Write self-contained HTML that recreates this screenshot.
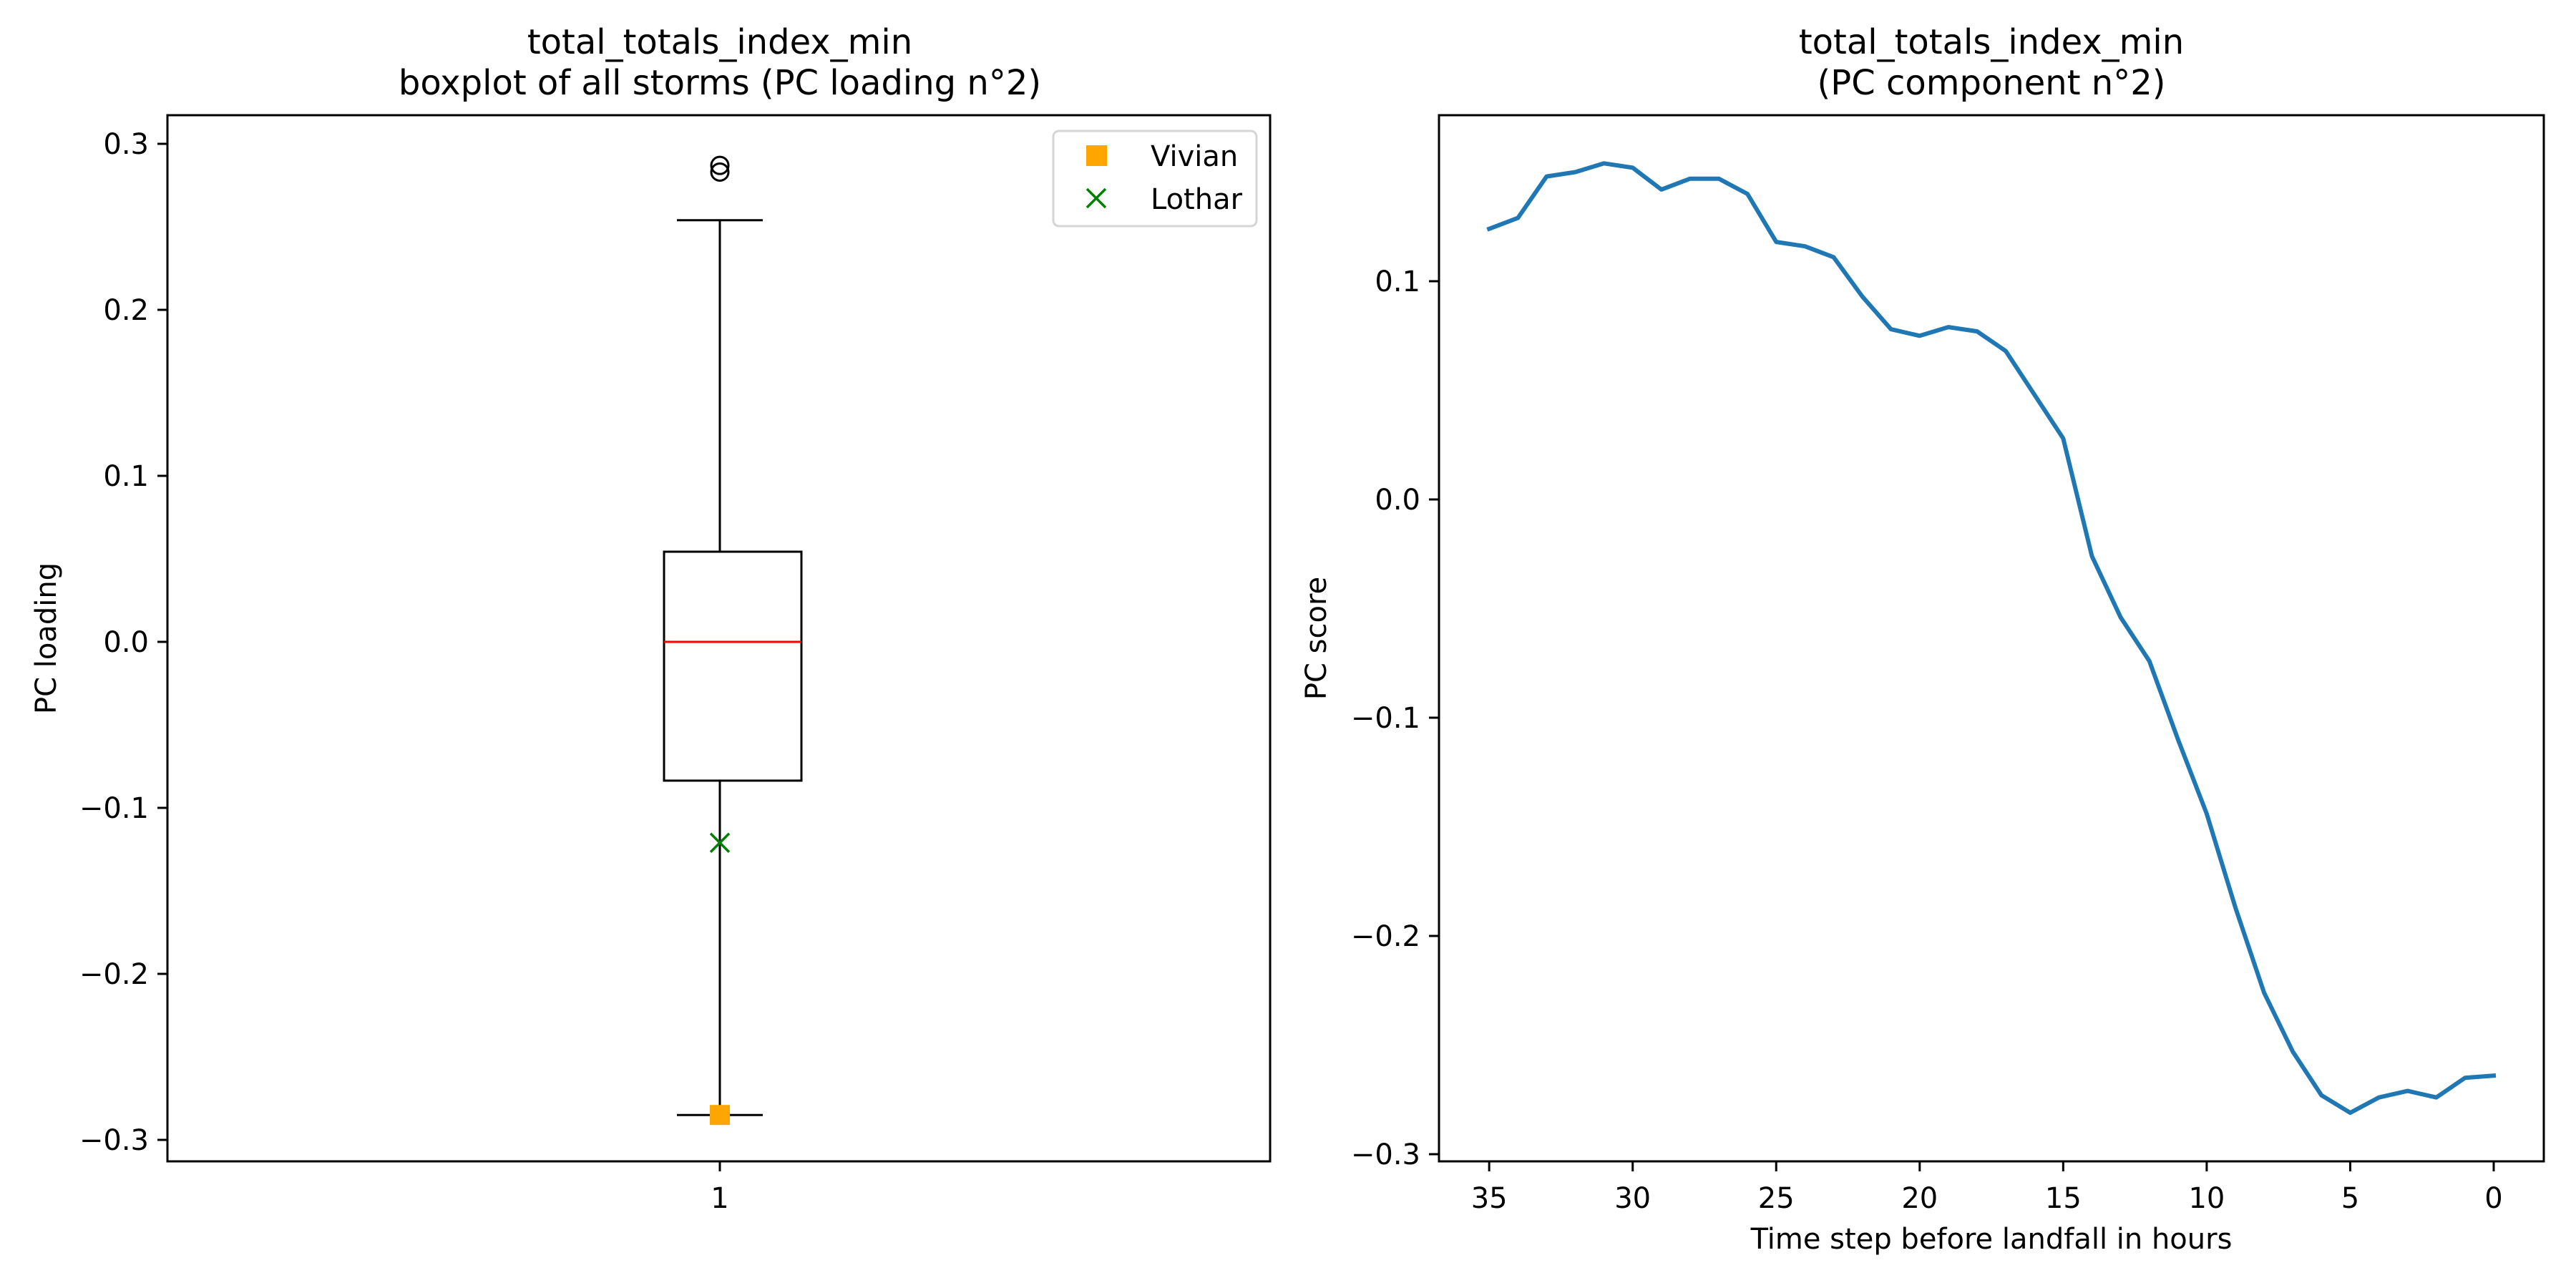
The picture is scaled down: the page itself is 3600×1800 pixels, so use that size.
<!DOCTYPE html>
<html><head><meta charset="utf-8"><style>
html,body{margin:0;padding:0;background:#fff;}
svg{display:block;font-family:"DejaVu Sans","Liberation Sans",sans-serif;}
</style></head><body>
<svg id="fig" width="3600" height="1800" viewBox="0 0 3600 1800" xmlns="http://www.w3.org/2000/svg">
<rect width="3600" height="1800" fill="#fff"/>
<g id="left"></g>
<g id="right"></g>
</svg>
<script>
// Boxplot data
const boxStats = [0.254, 0.0543, 0.0, -0.0836, -0.285]; // whiskerHigh, q3, median, q1, whiskerLow
const outliers = [0.283, 0.287];
const vivianValue = [-0.285];
const lotharValue = [-0.121];
const leftYTicks = [0.3, 0.2, 0.1, 0.0, -0.1, -0.2, -0.3];
const leftYTickLabels = ["0.3","0.2","0.1","0.0","\u22120.1","\u22120.2","\u22120.3"];
// Line data
const hours = [35,34,33,32,31,30,29,28,27,26,25,24,23,22,21,20,19,18,17,16,15,14,13,12,11,10,9,8,7,6,5,4,3,2,1,0];
const pcScore = [0.124,0.129,0.148,0.150,0.154,0.152,0.142,0.147,0.147,0.140,0.118,0.116,0.111,0.093,0.078,0.075,0.079,0.077,0.068,0.048,0.028,-0.026,-0.054,-0.074,-0.110,-0.144,-0.187,-0.226,-0.253,-0.273,-0.281,-0.274,-0.271,-0.274,-0.265,-0.264];
const rightXTicks = [35,30,25,20,15,10,5,0];
const rightYTicks = [0.1, 0.0, -0.1, -0.2, -0.3];
const rightYTickLabels = ["0.1","0.0","\u22120.1","\u22120.2","\u22120.3"];

const NS = "http://www.w3.org/2000/svg";
function mk(parent, tag, attrs, text){
  const e = document.createElementNS(NS, tag);
  for (const k in attrs) e.setAttribute(k, attrs[k]);
  if (text !== undefined) e.textContent = text;
  parent.appendChild(e);
  return e;
}
const TOP = 161, BOT = 1623;

// ---- Left panel ----
const L = document.getElementById('left');
const lx0 = 234, lx1 = 1775;
const ly = v => 897 - v * 2320;
const bx = 1006;
let e;
// box
e = mk(L,'rect',{x:928,y:ly(boxStats[1]),width:192,height:ly(boxStats[3])-ly(boxStats[1]),fill:'none',stroke:'#000','stroke-width':3});
 
e = mk(L,'line',{x1:928,x2:1120,y1:ly(boxStats[2]),y2:ly(boxStats[2]),stroke:'#f00','stroke-width':3});
 
e = mk(L,'line',{x1:bx,x2:bx,y1:ly(boxStats[1]),y2:ly(boxStats[0]),stroke:'#000','stroke-width':3});
 
e = mk(L,'line',{x1:bx,x2:bx,y1:ly(boxStats[3]),y2:ly(boxStats[4]),stroke:'#000','stroke-width':3});
 
e = mk(L,'line',{x1:946,x2:1066,y1:ly(boxStats[0]),y2:ly(boxStats[0]),stroke:'#000','stroke-width':3});
 
e = mk(L,'line',{x1:946,x2:1066,y1:ly(boxStats[4]),y2:ly(boxStats[4]),stroke:'#000','stroke-width':3});
 
outliers.forEach(v=>{
  const o = mk(L,'ellipse',{cx:bx,cy:ly(v),rx:12,ry:12,fill:'none',stroke:'#000','stroke-width':3});
   
});
vivianValue.forEach(v=>{
  const m = mk(L,'rect',{x:bx-14,y:ly(v)-14,width:28,height:28,fill:'#ffa500'});
   
});
lotharValue.forEach(v=>{
  const y = ly(v);
  const m = mk(L,'path',{d:`M${bx-13},${y-13}L${bx+13},${y+13}M${bx-13},${y+13}L${bx+13},${y-13}`,stroke:'#008000','stroke-width':3.5,fill:'none'});
   
});
// spines
e = mk(L,'rect',{x:lx0,y:TOP,width:lx1-lx0,height:BOT-TOP,fill:'none',stroke:'#000','stroke-width':3});
 
leftYTicks.forEach((v,i)=>{
  const y = ly(v);
  const t = mk(L,'line',{x1:lx0-14,x2:lx0,y1:y,y2:y,stroke:'#000','stroke-width':3});
   
  const tl = mk(L,'text',{x:lx0-26,y:y+14,'font-size':40,'text-anchor':'end'},leftYTickLabels[i]);
   
});
e = mk(L,'line',{x1:bx,x2:bx,y1:BOT,y2:BOT+14,stroke:'#000','stroke-width':3});
 
e = mk(L,'text',{x:bx,y:1688,'font-size':40,'text-anchor':'middle'},'1');
 
e = mk(L,'text',{x:0,y:0,'font-size':40,'text-anchor':'middle',transform:'translate(78,892) rotate(-90)'},'PC loading');
 
e = mk(L,'text',{x:1006,y:75,'font-size':48,'text-anchor':'middle'},'total_totals_index_min');
 
e = mk(L,'text',{x:1006,y:132,'font-size':48,'text-anchor':'middle'},'boxplot of all storms (PC loading n\u00b02)');
 
// legend
const G = mk(L,'g',{});
 
mk(G,'rect',{x:1472,y:183,width:284,height:133,rx:8,fill:'#fff','fill-opacity':0.8,stroke:'#d5d5d5','stroke-width':3});
e = mk(G,'rect',{x:1518,y:203,width:29,height:29,fill:'#ffa500'});
 
e = mk(G,'text',{x:1608,y:232,'font-size':40},'Vivian');
 
e = mk(G,'path',{d:'M1519,264L1545,290M1519,290L1545,264',stroke:'#008000','stroke-width':3.5});
 
e = mk(G,'text',{x:1608,y:292,'font-size':40},'Lothar');
 

// ---- Right panel ----
const R = document.getElementById('right');
const rx0 = 2011, rx1 = 3555;
const rx = h => 3485 - h * 40.11;
const ry = v => 698 - v * 3050;
const pts = hours.map((h,i)=>`${rx(h).toFixed(1)},${ry(pcScore[i]).toFixed(1)}`).join(' ');
e = mk(R,'polyline',{points:pts,fill:'none',stroke:'#1f77b4','stroke-width':6,'stroke-linejoin':'round','stroke-linecap':'square'});
 
e = mk(R,'rect',{x:rx0,y:TOP,width:rx1-rx0,height:BOT-TOP,fill:'none',stroke:'#000','stroke-width':3});
 
rightYTicks.forEach((v,i)=>{
  const y = ry(v);
  const t = mk(R,'line',{x1:rx0-14,x2:rx0,y1:y,y2:y,stroke:'#000','stroke-width':3});
   
  const tl = mk(R,'text',{x:rx0-26,y:y+14,'font-size':40,'text-anchor':'end'},rightYTickLabels[i]);
   
});
rightXTicks.forEach(h=>{
  const x = rx(h);
  const t = mk(R,'line',{x1:x,x2:x,y1:BOT,y2:BOT+14,stroke:'#000','stroke-width':3});
   
  const tl = mk(R,'text',{x:x,y:1688,'font-size':40,'text-anchor':'middle'},String(h));
   
});
e = mk(R,'text',{x:2783,y:1745,'font-size':40,'text-anchor':'middle'},'Time step before landfall in hours');
 
e = mk(R,'text',{x:0,y:0,'font-size':40,'text-anchor':'middle',transform:'translate(1853,892) rotate(-90)'},'PC score');
 
e = mk(R,'text',{x:2783,y:75,'font-size':48,'text-anchor':'middle'},'total_totals_index_min');
 
e = mk(R,'text',{x:2783,y:132,'font-size':48,'text-anchor':'middle'},' (PC component n\u00b02)');
 
</script>
</body></html>
